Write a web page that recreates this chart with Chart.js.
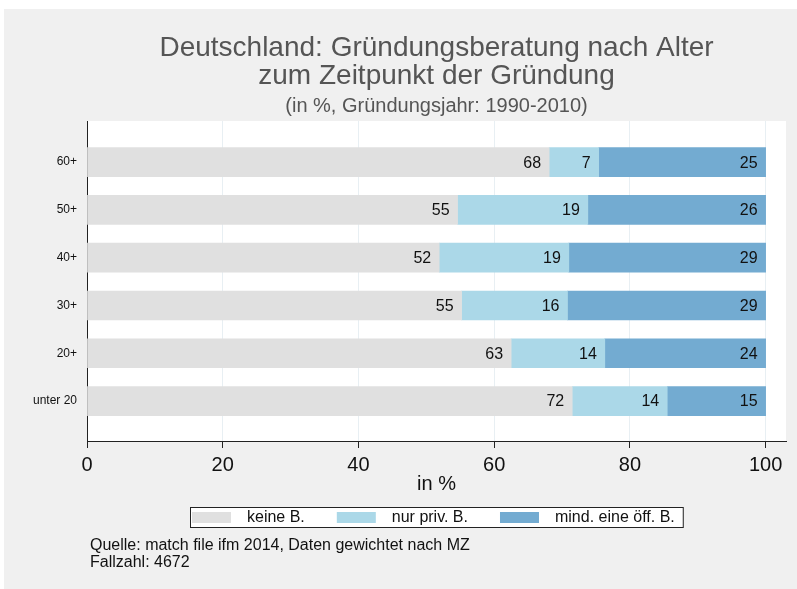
<!DOCTYPE html>
<html lang="de">
<head>
<meta charset="utf-8">
<title>Gründungsberatung nach Alter</title>
<script src="https://cdn.jsdelivr.net/npm/chart.js@4.4.1/dist/chart.umd.min.js"></script>
<style>
    html, body { margin: 0; padding: 0; background: #ffffff; }
    #wrap { width: 797px; height: 589px; }
</style>
</head>
<body>
<div id="wrap"><canvas id="chart" width="797" height="589"></canvas></div>
<script>
// Altersgruppen (von oben nach unten)
const categories = ['60+', '50+', '40+', '30+', '20+', 'unter 20'];

// Anteile in %
const keineB = [68.1, 54.6, 51.9, 55.2, 62.5, 71.5];
const nurPrivB = [7.3, 19.2, 19.1, 15.6, 13.8, 14.0];
const oeffB = [24.6, 26.2, 29.0, 29.2, 23.7, 14.5];

const xTicks = [0, 20, 40, 60, 80, 100];

const seriesNames = ['keine B.', 'nur priv. B.', 'mind. eine öff. B.'];
const seriesColors = ['#e0e0e0', '#abd8e8', '#73abd1'];

const titleLines = ['Deutschland: Gründungsberatung nach Alter', 'zum Zeitpunkt der Gründung'];
const subtitle = '(in %, Gründungsjahr: 1990-2010)';
const notes = ['Quelle: match file ifm 2014, Daten gewichtet nach MZ', 'Fallzahl: 4672'];

const FONT = "'Liberation Sans', Arial, Helvetica, sans-serif";
Chart.defaults.font.family = FONT;

function toPoints(values) {
    return values.map((v, i) => ({ x: v, y: i }));
}

// Hintergrund und weisse Plotflaeche
const backgroundPlugin = {
    id: 'background',
    beforeDraw(chart) {
        const ctx = chart.ctx;
        const a = chart.chartArea;
        ctx.save();
        ctx.fillStyle = '#ffffff';
        ctx.fillRect(0, 0, chart.width, chart.height);
        ctx.fillStyle = '#f0f0f0';
        ctx.fillRect(4, 9, chart.width - 4, chart.height - 9);
        ctx.fillStyle = '#ffffff';
        ctx.fillRect(a.left, a.top, a.right - a.left, a.bottom - a.top);
        ctx.restore();
    }
};

// Zahlen in den Balken
const barLabelsPlugin = {
    id: 'barLabels',
    afterDatasetsDraw(chart) {
        const ctx = chart.ctx;
        ctx.save();
        ctx.font = '16px ' + FONT;
        ctx.fillStyle = '#111111';
        ctx.textAlign = 'right';
        ctx.textBaseline = 'middle';
        chart.data.datasets.forEach((ds, di) => {
            const meta = chart.getDatasetMeta(di);
            meta.data.forEach((bar, i) => {
                const value = ds.data[i].x;
                ctx.fillText(String(Math.round(value)), bar.x - 8, bar.y + 1);
            });
        });
        ctx.restore();
    }
};

// Titel, Legende, Anmerkungen
const textPlugin = {
    id: 'texts',
    afterDraw(chart) {
        const ctx = chart.ctx;
        const a = chart.chartArea;
        const cx = (a.left + a.right) / 2;
        ctx.save();

        ctx.fillStyle = '#555555';
        ctx.textAlign = 'center';
        ctx.textBaseline = 'alphabetic';
        ctx.font = '28px ' + FONT;
        ctx.fillText(titleLines[0], cx, 56);
        ctx.fillText(titleLines[1], cx, 84);
        ctx.font = '20px ' + FONT;
        ctx.fillText(subtitle, cx, 112);

        // Legende
        ctx.font = '16px ' + FONT;
        const swW = 39, swH = 11, gap = 16, itemGap = 32;
        const widths = seriesNames.map(n => ctx.measureText(n).width);
        let total = 2 + 8;
        widths.forEach((w, i) => {
            total += swW + gap + w + (i < widths.length - 1 ? itemGap : 0);
        });
        const boxLeft = Math.round(cx - total / 2);
        const boxTop = 507, boxH = 20;
        ctx.fillStyle = '#ffffff';
        ctx.fillRect(boxLeft, boxTop, total, boxH);
        ctx.strokeStyle = '#222222';
        ctx.lineWidth = 1;
        ctx.strokeRect(boxLeft + 0.5, boxTop + 0.5, total, boxH);
        let x = boxLeft + 2;
        ctx.textAlign = 'left';
        ctx.textBaseline = 'middle';
        seriesNames.forEach((n, i) => {
            ctx.fillStyle = seriesColors[i];
            ctx.fillRect(x, boxTop + 5, swW, swH);
            x += swW + gap;
            ctx.fillStyle = '#111111';
            ctx.fillText(n, x, boxTop + boxH / 2 + 1);
            x += widths[i] + itemGap;
        });

        // Anmerkungen
        ctx.textBaseline = 'alphabetic';
        ctx.fillStyle = '#111111';
        ctx.fillText(notes[0], 90, 550);
        ctx.fillText(notes[1], 90, 567);

        ctx.restore();
    }
};

new Chart(document.getElementById('chart'), {
    type: 'bar',
    data: {
        datasets: [
            { label: seriesNames[0], data: toPoints(keineB), backgroundColor: seriesColors[0] },
            { label: seriesNames[1], data: toPoints(nurPrivB), backgroundColor: seriesColors[1] },
            { label: seriesNames[2], data: toPoints(oeffB), backgroundColor: seriesColors[2] }
        ]
    },
    options: {
        indexAxis: 'y',
        responsive: false,
        animation: false,
        layout: {
            padding: { left: 0, top: 121, right: 11, bottom: 88 }
        },
        datasets: {
            bar: { barThickness: 29, borderWidth: 0 }
        },
        plugins: {
            legend: { display: false },
            title: { display: false },
            tooltip: { enabled: false }
        },
        scales: {
            x: {
                type: 'linear',
                stacked: true,
                min: 0,
                max: 103,
                afterBuildTicks: (scale) => {
                    scale.ticks = xTicks.map(v => ({ value: v }));
                },
                afterFit: (scale) => { scale.height = 60; },
                grid: {
                    color: '#e8eff3',
                    tickColor: '#222222',
                    tickLength: 7
                },
                border: { display: true, color: '#222222', width: 1 },
                ticks: {
                    font: { size: 20 },
                    color: '#111111',
                    padding: 5,
                    maxRotation: 0
                },
                title: {
                    display: true,
                    text: 'in %',
                    font: { size: 20 },
                    color: '#111111',
                    padding: { top: 0, bottom: 5 }
                }
            },
            y: {
                type: 'linear',
                stacked: true,
                reverse: true,
                offset: false,
                min: -0.86,
                max: 5.835,
                afterBuildTicks: (scale) => {
                    scale.ticks = categories.map((c, i) => ({ value: i }));
                },
                afterFit: (scale) => { scale.width = 87; },
                grid: { display: false, drawTicks: false, offset: false },
                border: { display: true, color: '#222222', width: 1 },
                ticks: {
                    font: { size: 12 },
                    color: '#111111',
                    padding: 10,
                    callback: (value) => categories[value]
                }
            }
        }
    },
    plugins: [backgroundPlugin, barLabelsPlugin, textPlugin]
});
</script>
</body>
</html>
